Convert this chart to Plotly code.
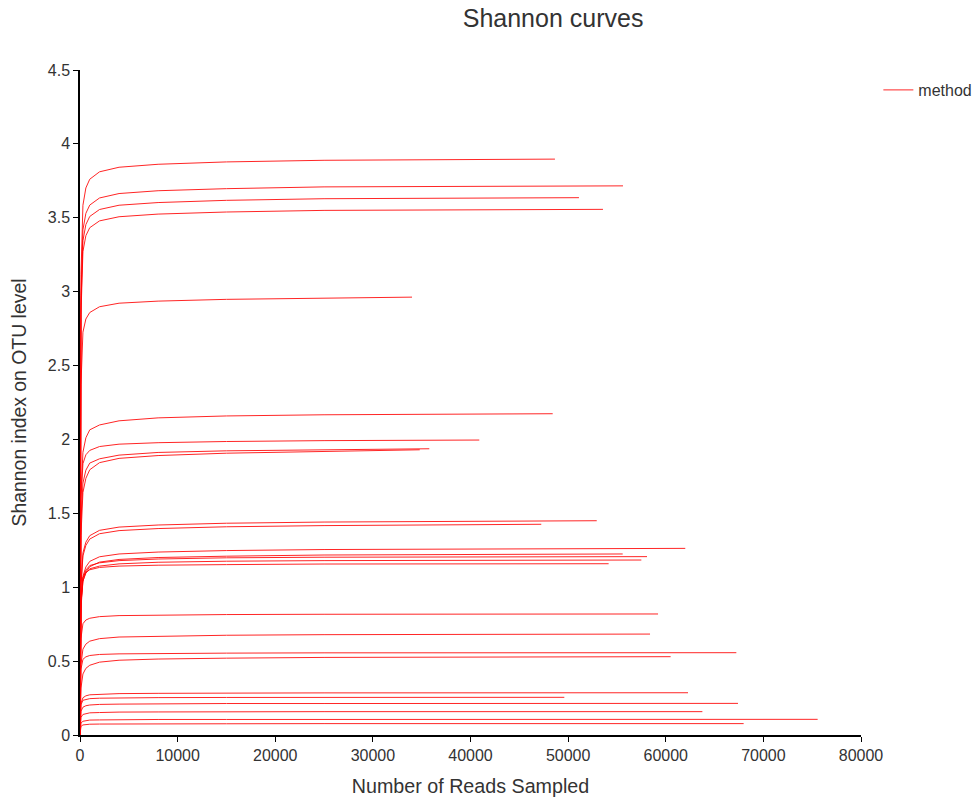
import plotly.graph_objects as go

# Common rarefaction depths (reads sampled) shared by every curve; the last point of each curve is its own depth
depths = [1, 100, 300, 600, 1000, 2000, 4000, 8000, 15000, 25000]

end_depths = [48650, 55620, 51110, 53570, 34010, 48420, 40900, 35780, 34800,
              52930, 47250, 62000, 55590, 58080, 57500, 54150,
              59210, 58390, 67230, 60500, 62280, 49610, 67400, 63750, 75560, 67980]

shannon_values = [
    [0, 3.118, 3.585, 3.702, 3.761, 3.811, 3.842, 3.862, 3.878, 3.889, 3.897],
    [0, 2.973, 3.419, 3.530, 3.586, 3.634, 3.664, 3.683, 3.697, 3.709, 3.716],
    [0, 2.909, 3.345, 3.454, 3.509, 3.556, 3.585, 3.603, 3.618, 3.629, 3.636],
    [0, 2.846, 3.272, 3.379, 3.433, 3.479, 3.507, 3.525, 3.539, 3.550, 3.557],
    [0, 2.370, 2.726, 2.815, 2.859, 2.898, 2.922, 2.936, 2.948, 2.957, 2.963],
    [0, 1.631, 1.913, 2.011, 2.065, 2.098, 2.126, 2.146, 2.159, 2.167, 2.174],
    [0, 1.597, 1.836, 1.896, 1.926, 1.952, 1.968, 1.978, 1.986, 1.992, 1.996],
    [0, 1.453, 1.705, 1.792, 1.840, 1.869, 1.894, 1.912, 1.923, 1.931, 1.937],
    [0, 1.351, 1.641, 1.737, 1.795, 1.843, 1.872, 1.891, 1.907, 1.918, 1.930],
    [0, 1.015, 1.233, 1.305, 1.349, 1.385, 1.407, 1.421, 1.433, 1.441, 1.450],
    [0, 0.998, 1.212, 1.283, 1.326, 1.362, 1.383, 1.397, 1.409, 1.417, 1.426],
    [0, 0.884, 1.074, 1.137, 1.175, 1.206, 1.225, 1.238, 1.248, 1.255, 1.263],
    [0, 0.858, 1.041, 1.103, 1.139, 1.170, 1.188, 1.201, 1.210, 1.218, 1.225],
    [0, 0.905, 1.062, 1.116, 1.147, 1.165, 1.180, 1.191, 1.199, 1.203, 1.207],
    [0, 0.888, 1.042, 1.095, 1.125, 1.143, 1.158, 1.169, 1.176, 1.180, 1.184],
    [0, 0.927, 1.066, 1.101, 1.118, 1.134, 1.143, 1.149, 1.153, 1.157, 1.159],
    [0, 0.655, 0.753, 0.778, 0.790, 0.801, 0.808, 0.812, 0.815, 0.817, 0.819],
    [0, 0.478, 0.581, 0.615, 0.635, 0.652, 0.663, 0.669, 0.675, 0.679, 0.683],
    [0, 0.446, 0.512, 0.529, 0.538, 0.545, 0.549, 0.552, 0.554, 0.556, 0.557],
    [0, 0.318, 0.413, 0.451, 0.472, 0.493, 0.506, 0.514, 0.520, 0.525, 0.530],
    [0, 0.215, 0.252, 0.265, 0.272, 0.276, 0.280, 0.282, 0.284, 0.285, 0.286],
    [0, 0.204, 0.235, 0.242, 0.246, 0.249, 0.251, 0.253, 0.254, 0.254, 0.255],
    [0, 0.161, 0.188, 0.198, 0.203, 0.207, 0.209, 0.211, 0.213, 0.213, 0.214],
    [0, 0.119, 0.139, 0.146, 0.150, 0.152, 0.155, 0.156, 0.157, 0.158, 0.158],
    [0, 0.080, 0.093, 0.098, 0.101, 0.102, 0.104, 0.105, 0.105, 0.106, 0.106],
    [0, 0.058, 0.068, 0.071, 0.073, 0.074, 0.075, 0.076, 0.076, 0.077, 0.077],
]

x_ticks = [0, 10000, 20000, 30000, 40000, 50000, 60000, 70000, 80000]
y_ticks = [0, 0.5, 1, 1.5, 2, 2.5, 3, 3.5, 4, 4.5]
y_tick_labels = ["0", "0.5", "1", "1.5", "2", "2.5", "3", "3.5", "4", "4.5"]

FONT = "Liberation Sans, Arial, sans-serif"

fig = go.Figure()
for i, (vals, end) in enumerate(zip(shannon_values, end_depths)):
    fig.add_trace(go.Scatter(
        x=depths + [end], y=vals, mode="lines",
        line=dict(color="#ff0000", width=1),
        opacity=0.85,
        name="method", legendgroup="method",
        showlegend=(i == 0),
        hoverinfo="skip",
    ))

fig.update_layout(
    width=978, height=797,
    paper_bgcolor="white", plot_bgcolor="white",
    margin=dict(l=80, r=117, t=70, b=62, autoexpand=False),
    font=dict(family=FONT, color="#333333"),
    title=dict(text="Shannon curves", x=0.5655, xanchor="center", y=0.977, yanchor="middle",
               font=dict(size=25, color="#333333", family=FONT)),
    legend=dict(x=1.149, y=0.9955, xanchor="right", yanchor="top",
                font=dict(size=16, color="#333333"), bgcolor="rgba(0,0,0,0)"),
    showlegend=True,
)
fig.update_xaxes(
    range=[0, 80000], tickvals=x_ticks, ticktext=[str(v) for v in x_ticks],
    showgrid=False, zeroline=False, showline=True, linecolor="#000000", linewidth=1.5,
    ticks="outside", ticklen=5, tickcolor="#000000", automargin=False,
    tickfont=dict(size=16, color="#333333"),
    title=dict(text="Number of Reads Sampled", font=dict(size=19.7, color="#333333"), standoff=16),
)
fig.update_yaxes(
    range=[0, 4.5], tickvals=y_ticks, ticktext=y_tick_labels,
    showgrid=False, zeroline=False, showline=True, linecolor="#000000", linewidth=1.5,
    ticks="outside", ticklen=5, tickcolor="#000000", automargin=False,
    tickfont=dict(size=16, color="#333333"),
    title=dict(text="Shannon index on OTU level", font=dict(size=19.4, color="#333333"), standoff=16),
)

fig.write_html("out.html", config={"displayModeBar": False},
               post_script="document.body.style.margin='0';")
